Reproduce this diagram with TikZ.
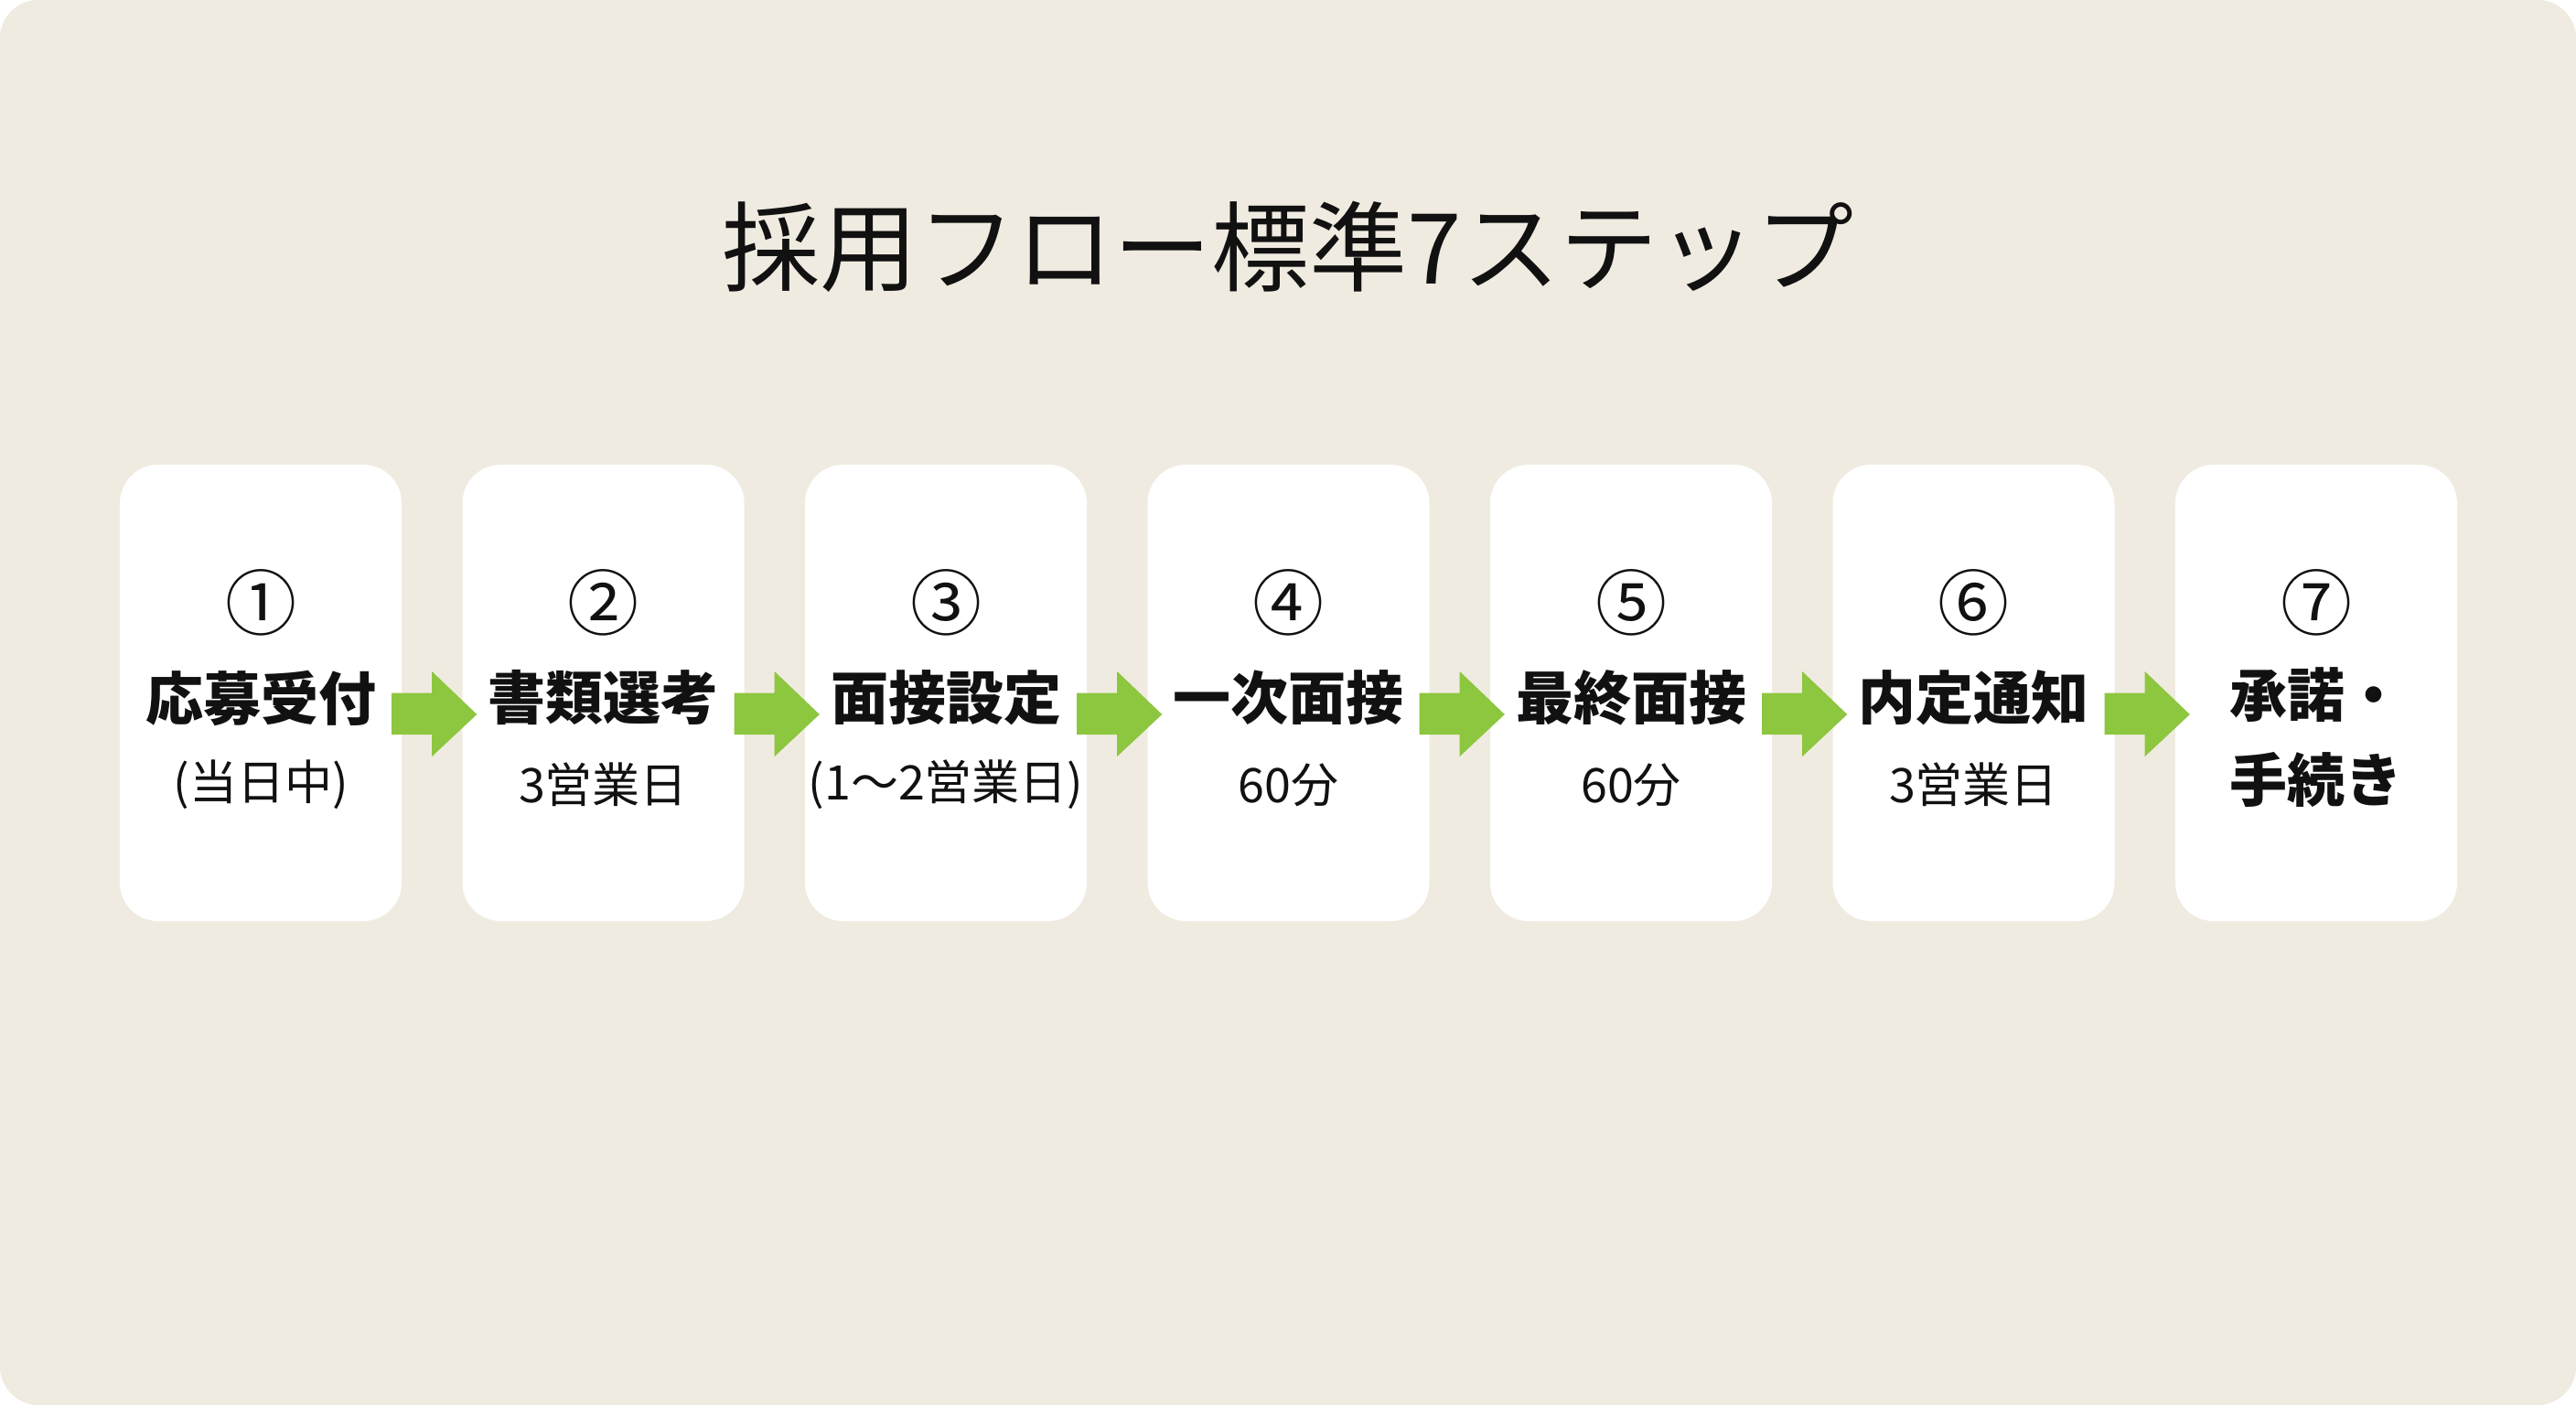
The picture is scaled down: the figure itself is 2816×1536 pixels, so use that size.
\documentclass[tikz,border=0pt]{standalone}
\usepackage{fontspec}
\setmainfont{Noto Sans CJK JP}
\usetikzlibrary{calc}
\definecolor{bgc}{HTML}{F0EBE0}
\definecolor{arrowc}{HTML}{8DC63F}
\definecolor{inkc}{HTML}{111111}
\tikzset{
  card/.style={fill=white, rounded corners=42pt, minimum width=308pt, minimum height=499pt, inner sep=0pt},
  numtext/.style={font=\fontsize{78}{80}\selectfont, inner sep=0pt, text=inkc},
  maintext/.style={font=\bfseries\fontsize{63}{70}\selectfont, inner sep=0pt, text=inkc},
  subtext/.style={font=\fontsize{52}{60}\selectfont, inner sep=0pt, text=inkc},
  flowarrow/.style={fill=arrowc},
}
\begin{document}
\begin{tikzpicture}[x=1pt,y=-1pt]
\useasboundingbox (0,0) rectangle (2816,1536);
\fill[white] (0,0) rectangle (2816,1536);
\fill[bgc, rounded corners=42pt] (0,0) rectangle (2816,1536);
\node[font=\fontsize{107}{110}\selectfont, inner sep=0pt, text=inkc] (title) at (1408,270) {採用フロー標準7ステップ};

\foreach \i/\cx in {1/285, 2/659.5, 3/1034, 4/1408.5, 5/1783, 6/2157.5, 7/2532}{
  \node[card] (b\i) at (\cx,757.5) {};
}
\foreach \i/\cx/\n/\m/\s in {1/285/①/応募受付/(当日中), 2/659.5/②/書類選考/3営業日, 3/1034/③/面接設定/(1〜2営業日), 4/1408.5/④/一次面接/60分, 5/1783/⑤/最終面接/60分, 6/2157.5/⑥/内定通知/3営業日}{
  \node[numtext] (n\i) at (\cx,659) {\n};
  \node[maintext] (m\i) at (\cx,763) {\m};
  \node[subtext] (s\i) at (\cx,858) {\s};
}
\node[numtext] (n7) at (2532,659) {⑦};
\node[maintext, align=center, font=\bfseries\fontsize{63}{93}\selectfont] (m7) at (2532,806.5) {承諾・\\手続き};

\foreach \i/\j in {1/2, 2/3, 3/4, 4/5, 5/6, 6/7}{
  \fill[flowarrow] ($(b\i.east)+(-11,0)$) -- ($(b\i.east)+(33,0)$) -- ($(b\i.east)+(33,-23.5)$)
    -- ($(b\j.west)+(16,23.5)$)
    -- ($(b\i.east)+(33,69.5)$) -- ($(b\i.east)+(33,45.5)$) -- ($(b\i.east)+(-11,45.5)$) -- cycle;
}
\end{tikzpicture}
\end{document}
